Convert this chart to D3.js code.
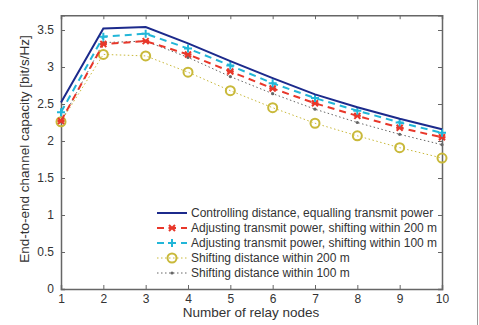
<!DOCTYPE html>
<html>
<head>
<meta charset="utf-8">
<script src="https://cdn.jsdelivr.net/npm/d3@7"></script>
<style>
  body { margin: 0; background: #fff; }
  text { font-family: "Liberation Sans", Arial, sans-serif; fill: #333; }
</style>
</head>
<body>
<div id="area"></div>
<script>
const nodes = [1, 2, 3, 4, 5, 6, 7, 8, 9, 10]
const controlling = [2.52, 3.52, 3.54, 3.32, 3.08, 2.85, 2.63, 2.455, 2.30, 2.16]
const adjust200 = [2.27, 3.31, 3.35, 3.17, 2.94, 2.71, 2.51, 2.34, 2.18, 2.05]
const adjust100 = [2.39, 3.41, 3.45, 3.25, 3.02, 2.78, 2.58, 2.41, 2.25, 2.11]
const shift200 = [2.26, 3.17, 3.15, 2.93, 2.68, 2.45, 2.24, 2.07, 1.91, 1.77]
const shift100 = [2.26, 3.33, 3.35, 3.13, 2.87, 2.64, 2.43, 2.25, 2.09, 1.95]
const yTicks = [0, 0.5, 1, 1.5, 2, 2.5, 3, 3.5]
const labels = [
  'Controlling distance, equalling transmit power',
  'Adjusting transmit power, shifting within 200 m',
  'Adjusting transmit power, shifting within 100 m',
  'Shifting distance within 200 m',
  'Shifting distance within 100 m'
]

const series = [
  {name: labels[0], values: controlling, color: '#1c2a8c', dash: null, width: 2, mark: 'none'},
  {name: labels[1], values: adjust200, color: '#e8372a', dash: '7,5', width: 2, mark: 'x'},
  {name: labels[2], values: adjust100, color: '#22b6d8', dash: '7,5', width: 2, mark: 'plus'},
  {name: labels[3], values: shift200, color: '#c9b93a', dash: '1.5,2.5', width: 1, mark: 'circle'},
  {name: labels[4], values: shift100, color: '#666666', dash: '1.5,2.5', width: 1, mark: 'dot'}
]

const svg = d3.select('#area')
            .append('svg')
            .attr('width', 479)
            .attr('height', 325)

const xScale = d3.scaleLinear()
              .domain([1, 10])
              .range([61, 442])
const yScale = d3.scaleLinear()
              .domain([0, 3.7])
              .range([289, 15.2])

// figure edge
svg.append('line')
    .attr('x1', 477.5).attr('x2', 477.5)
    .attr('y1', 0).attr('y2', 325)
    .attr('stroke', '#999').attr('stroke-width', 1)

// axes, ticks inward like matlab
const axisColor = '#666'
const gx = svg.append('g').attr('transform', 'translate(0,289)')
            .call(d3.axisBottom(xScale).tickValues(nodes).tickSize(-4).tickPadding(5).tickFormat(d3.format('d')))
const gxTop = svg.append('g').attr('transform', 'translate(0,' + yScale(3.7) + ')')
            .call(d3.axisTop(xScale).tickValues(nodes).tickSize(-4).tickFormat(''))
const gy = svg.append('g').attr('transform', 'translate(61,0)')
            .call(d3.axisLeft(yScale).tickValues(yTicks).tickSize(-4).tickPadding(7).tickFormat(d => d))
const gyRight = svg.append('g').attr('transform', 'translate(442,0)')
            .call(d3.axisRight(yScale).tickValues(yTicks).tickSize(-4).tickFormat(''))

;[gx, gxTop, gy, gyRight].forEach(g => {
  g.select('.domain').attr('stroke', axisColor).attr('stroke-width', 1.5)
  g.selectAll('.tick line').attr('stroke', axisColor)
  g.selectAll('.tick text').style('font-size', '12px').attr('fill', '#333')
    .style('font-family', '"Liberation Sans", Arial, sans-serif')
})

// axis titles
svg.append('text')
    .attr('x', 251).attr('y', 317)
    .attr('text-anchor', 'middle')
    .style('font-size', '13.5px')
    .text('Number of relay nodes')
svg.append('text')
    .attr('transform', 'translate(29,149) rotate(-90)')
    .attr('text-anchor', 'middle')
    .style('font-size', '13.5px')
    .text('End-to-end channel capacity [bit/s/Hz]')

const line = d3.line()
              .x((d, i) => xScale(nodes[i]))
              .y(d => yScale(d))

function drawMark(g, mark, color, x, y) {
  if (mark === 'x') {
    g.append('path')
      .attr('d', `M${x-3},${y-3}L${x+3},${y+3}M${x-3},${y+3}L${x+3},${y-3}M${x-3.5},${y}L${x+3.5},${y}`)
      .attr('stroke', color).attr('stroke-width', 2).attr('fill', 'none')
  } else if (mark === 'plus') {
    g.append('path')
      .attr('d', `M${x-4},${y}L${x+4},${y}M${x},${y-4}L${x},${y+4}`)
      .attr('stroke', color).attr('stroke-width', 2).attr('fill', 'none')
  } else if (mark === 'circle') {
    g.append('circle')
      .attr('cx', x).attr('cy', y).attr('r', 4.5)
      .attr('stroke', color).attr('stroke-width', 2).attr('fill', 'none')
  } else if (mark === 'dot') {
    g.append('circle')
      .attr('cx', x).attr('cy', y).attr('r', 1.6)
      .attr('fill', color)
  }
}

// draw back to front so the solid line sits on top
const order = [4, 3, 1, 2, 0]
order.forEach(k => {
  const s = series[k]
  const g = svg.append('g').attr('class', 'series')
  g.append('path')
    .datum(s.values)
    .attr('d', line)
    .attr('fill', 'none')
    .attr('stroke', s.color)
    .attr('stroke-width', s.width)
    .attr('stroke-dasharray', s.dash)
  s.values.forEach((v, i) => drawMark(g, s.mark, s.color, xScale(nodes[i]), yScale(v)))
})

// legend, no box
const legend = svg.append('g').attr('class', 'legend')
series.forEach((s, i) => {
  const y = 213 + i * 15
  legend.append('line')
    .attr('x1', 157).attr('x2', 187)
    .attr('y1', y).attr('y2', y)
    .attr('stroke', s.color)
    .attr('stroke-width', s.width)
    .attr('stroke-dasharray', s.dash)
  drawMark(legend, s.mark, s.color, 172, y)
  legend.append('text')
    .attr('x', 191).attr('y', y + 4)
    .style('font-size', '12px')
    .text(s.name)
})
</script>
</body>
</html>
